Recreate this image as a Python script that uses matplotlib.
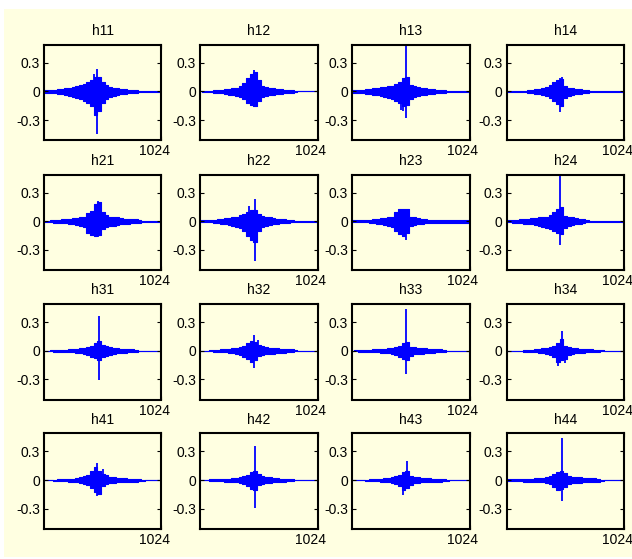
import matplotlib
matplotlib.use('Agg')
import matplotlib.pyplot as plt
from matplotlib.patches import Rectangle
import matplotlib.transforms as mtransforms

plt.rcParams['font.family'] = ['Liberation Sans', 'DejaVu Sans']

# sample positions at which the envelope of each response was read
GRID = list(range(0, 1025, 32))

TITLES = ['h11', 'h12', 'h13', 'h14',
          'h21', 'h22', 'h23', 'h24',
          'h31', 'h32', 'h33', 'h34',
          'h41', 'h42', 'h43', 'h44']

YTICKS = [-0.3, 0, 0.3]
YTICKLABELS = ['-0.3', '0', '0.3']
XTICKS = [1024]
XTICKLABELS = ['1024']

# ---- envelopes (upper / lower), plus narrow spikes ----
H11_UP = [.015, .015, .015, .02, .025, .03, .035, .04, .05, .06, .07,
          .08, .10, .12, .15, .15, .10, .07, .05, .04, .035, .03,
          .025, .02, .02, .015, .005, .003, .003, .003, .01, .003, .003]
H11_LO = [-.015, -.015, -.015, -.02, -.025, -.03, -.04, -.05, -.06, -.07, -.08,
          -.10, -.12, -.15, -.25, -.20, -.12, -.08, -.06, -.05, -.04, -.03,
          -.025, -.02, -.02, -.015, -.005, -.003, -.003, -.003, -.01, -.003, -.003]
H11_SPX = [440, 462]
H11_SPT = [.18, .24]
H11_SPB = [-.10, -.45]

H12_UP = [0, .003, .005, .01, .012, .015, .02, .025, .03, .035, .04,
          .06, .09, .14, .18, .20, .12, .06, .05, .04, .035, .03,
          .025, .02, .02, .015, .01, 0, 0, 0, 0, 0, 0]
H12_LO = [0, -.003, -.005, -.01, -.012, -.015, -.02, -.025, -.035, -.04, -.05,
          -.06, -.08, -.12, -.14, -.15, -.10, -.06, -.05, -.04, -.035, -.03,
          -.025, -.02, -.02, -.015, -.01, 0, 0, 0, 0, 0, 0]
H12_SPX = [470]
H12_SPT = [.22]
H12_SPB = [-.16]

H13_UP = [.012, .012, .015, .02, .025, .03, .035, .04, .045, .05, .055,
          .06, .08, .10, .14, .15, .07, .06, .05, .04, .035, .03,
          .025, .02, .015, .015, .01, .01, .008, .008, .008, .008, .008]
H13_LO = [-.012, -.012, -.015, -.02, -.025, -.03, -.035, -.04, -.05, -.06, -.07,
          -.08, -.10, -.12, -.15, -.14, -.08, -.06, -.05, -.04, -.035, -.03,
          -.025, -.02, -.015, -.015, -.01, -.01, -.008, -.008, -.008, -.008, -.008]
H13_SPX = [425, 445, 474]
H13_SPT = [.05, .05, .48]
H13_SPB = [-.19, -.20, -.28]

H14_UP = [.01, .01, .01, .01, .01, .01, .015, .02, .025, .03, .035,
          .05, .07, .10, .12, .13, .06, .04, .035, .03, .025, .02,
          .015, .01, .01, .01, .01, .01, .01, .01, .01, .01, .01]
H14_LO = [-.01, -.01, -.01, -.01, -.01, -.01, -.015, -.02, -.025, -.03, -.035,
          -.05, -.07, -.10, -.13, -.15, -.07, -.05, -.04, -.03, -.025, -.02,
          -.015, -.01, -.01, -.01, -.01, -.01, -.01, -.01, -.01, -.01, -.01]
H14_SPX = [465, 485]
H14_SPT = [.14, .15]
H14_SPB = [-.21, -.12]

H21_UP = [.005, .008, .01, .015, .015, .02, .02, .025, .03, .035, .04,
          .05, .09, .11, .18, .20, .10, .07, .05, .045, .04, .03,
          .025, .025, .02, .02, .015, .003, .003, .003, .003, .003, .003]
H21_LO = [-.005, -.008, -.01, -.015, -.015, -.02, -.02, -.025, -.03, -.04, -.05,
          -.06, -.12, -.14, -.15, -.14, -.08, -.06, -.05, -.045, -.04, -.03,
          -.025, -.025, -.02, -.02, -.015, -.003, -.003, -.003, -.003, -.003, -.003]
H21_SPX = [470]
H21_SPT = [.21]
H21_SPB = [-.16]

H22_UP = [.01, .01, .01, .012, .015, .02, .025, .03, .035, .04, .05,
          .07, .08, .10, .12, .12, .08, .06, .05, .04, .03, .025,
          .02, .02, .015, .01, .005, .003, .003, .003, .008, .005, .003]
H22_LO = [-.01, -.01, -.01, -.012, -.015, -.02, -.025, -.03, -.04, -.05, -.06,
          -.07, -.10, -.15, -.20, -.22, -.10, -.06, -.05, -.04, -.03, -.025,
          -.02, -.02, -.015, -.01, -.005, -.003, -.003, -.003, -.008, -.005, -.003]
H22_SPX = [430, 483]
H22_SPT = [.16, .23]
H22_SPB = [-.10, -.42]

H23_UP = [.012, .012, .012, .012, .012, .015, .02, .025, .03, .035, .04,
          .05, .10, .13, .13, .13, .05, .04, .03, .025, .02, .015,
          .015, .015, .015, .015, .015, .015, .015, .015, .015, .015, .015]
H23_LO = [-.012, -.012, -.012, -.012, -.012, -.015, -.02, -.025, -.03, -.035, -.05,
          -.06, -.10, -.13, -.15, -.12, -.05, -.04, -.03, -.025, -.02, -.015,
          -.015, -.015, -.015, -.015, -.015, -.015, -.015, -.015, -.015, -.015, -.015]
H23_SPX = [470]
H23_SPT = [.13]
H23_SPB = [-.20]

H24_UP = [.01, .012, .015, .018, .02, .025, .025, .03, .035, .04, .05,
          .05, .07, .10, .13, .15, .06, .05, .04, .03, .025, .02,
          .01, .008, .005, .005, .005, .005, .005, .005, .005, .005, .005]
H24_LO = [-.01, -.012, -.015, -.018, -.02, -.025, -.025, -.03, -.035, -.05, -.06,
          -.07, -.08, -.10, -.12, -.13, -.07, -.05, -.04, -.03, -.025, -.02,
          -.01, -.008, -.005, -.005, -.005, -.005, -.005, -.005, -.005, -.005, -.005]
H24_SPX = [468]
H24_SPT = [.47]
H24_SPB = [-.25]

H31_UP = [0, 0, .005, .01, .01, .012, .012, .015, .015, .02, .025,
          .03, .035, .05, .08, .10, .06, .05, .04, .03, .025, .02,
          .02, .015, .015, .01, 0, 0, 0, 0, 0, 0, 0]
H31_LO = [0, 0, -.005, -.01, -.01, -.012, -.012, -.015, -.015, -.02, -.025,
          -.03, -.04, -.06, -.08, -.10, -.07, -.05, -.04, -.03, -.025, -.02,
          -.02, -.015, -.015, -.01, 0, 0, 0, 0, 0, 0, 0]
H31_SPX = [477]
H31_SPT = [.36]
H31_SPB = [-.31]

H32_UP = [0, 0, 0, .005, .01, .012, .015, .015, .02, .025, .03,
          .04, .05, .08, .10, .09, .06, .05, .035, .03, .03, .025,
          .02, .02, .015, .015, .005, 0, 0, 0, 0, 0, 0]
H32_LO = [0, 0, 0, -.005, -.01, -.012, -.015, -.015, -.02, -.025, -.03,
          -.04, -.06, -.09, -.12, -.10, -.05, -.04, -.035, -.03, -.03, -.025,
          -.02, -.02, -.015, -.015, -.005, 0, 0, 0, 0, 0, 0]
H32_SPX = [467, 505]
H32_SPT = [.17, .11]
H32_SPB = [-.18, -.05]

H33_UP = [0, .005, .01, .01, .012, .012, .015, .015, .02, .02, .025,
          .03, .04, .05, .08, .09, .04, .035, .03, .03, .025, .02,
          .02, .015, .015, .01, 0, 0, 0, 0, 0, 0, 0]
H33_LO = [0, -.005, -.01, -.01, -.012, -.012, -.015, -.015, -.02, -.02, -.025,
          -.03, -.04, -.06, -.09, -.10, -.05, -.035, -.03, -.03, -.025, -.02,
          -.02, -.015, -.015, -.01, 0, 0, 0, 0, 0, 0, 0]
H33_SPX = [472]
H33_SPT = [.44]
H33_SPB = [-.24]

H34_UP = [0, 0, 0, 0, 0, .008, .01, .012, .015, .02, .025,
          .03, .04, .05, .08, .12, .05, .04, .03, .025, .02, .02,
          .015, .015, .01, .01, .005, 0, 0, 0, 0, 0, 0]
H34_LO = [0, 0, 0, 0, 0, -.008, -.01, -.012, -.015, -.02, -.025,
          -.03, -.04, -.06, -.12, -.10, -.09, -.04, -.03, -.025, -.02, -.02,
          -.015, -.015, -.01, -.01, -.005, 0, 0, 0, 0, 0, 0]
H34_SPX = [450, 487, 510]
H34_SPT = [.05, .21, .03]
H34_SPB = [-.16, -.06, -.13]

H41_UP = [0, 0, 0, .005, .01, .01, .012, .015, .015, .02, .03,
          .04, .05, .10, .14, .10, .06, .05, .035, .03, .025, .02,
          .02, .015, .015, .015, .01, .005, 0, 0, 0, 0, 0]
H41_LO = [0, 0, 0, -.005, -.01, -.01, -.012, -.015, -.015, -.02, -.03,
          -.04, -.05, -.08, -.12, -.15, -.06, -.04, -.035, -.03, -.025, -.02,
          -.02, -.015, -.015, -.015, -.01, -.005, 0, 0, 0, 0, 0]
H41_SPX = [465, 518]
H41_SPT = [.18, .12]
H41_SPB = [-.17, -.03]

H42_UP = [0, 0, 0, .008, .01, .012, .012, .015, .015, .02, .025,
          .03, .04, .05, .08, .10, .06, .04, .035, .03, .02, .02,
          .015, .015, .01, .01, 0, 0, 0, 0, 0, 0, 0]
H42_LO = [0, 0, 0, -.008, -.01, -.012, -.012, -.015, -.015, -.02, -.025,
          -.03, -.04, -.06, -.09, -.10, -.05, -.04, -.035, -.03, -.02, -.02,
          -.015, -.015, -.01, -.01, 0, 0, 0, 0, 0, 0, 0]
H42_SPX = [476]
H42_SPT = [.36]
H42_SPB = [-.29]

H43_UP = [0, 0, 0, 0, .005, .01, .01, .012, .015, .02, .02,
          .03, .04, .05, .08, .10, .04, .035, .03, .025, .02, .02,
          .015, .015, .015, .01, .005, 0, 0, 0, 0, 0, 0]
H43_LO = [0, 0, 0, 0, -.005, -.01, -.01, -.012, -.015, -.02, -.02,
          -.03, -.04, -.06, -.10, -.08, -.05, -.035, -.03, -.025, -.02, -.02,
          -.015, -.015, -.015, -.01, -.005, 0, 0, 0, 0, 0, 0]
H43_SPX = [443, 483]
H43_SPT = [.03, .20]
H43_SPB = [-.16, -.05]

H44_UP = [.008, .01, .01, .012, .012, .015, .015, .015, .02, .02, .025,
          .035, .045, .06, .08, .10, .07, .04, .035, .03, .03, .025,
          .02, .02, .02, .015, .005, 0, 0, 0, 0, 0, 0]
H44_LO = [-.008, -.01, -.01, -.012, -.012, -.015, -.015, -.015, -.02, -.02, -.025,
          -.035, -.045, -.07, -.10, -.09, -.07, -.04, -.035, -.03, -.03, -.025,
          -.02, -.02, -.02, -.015, -.005, 0, 0, 0, 0, 0, 0]
H44_SPX = [487]
H44_SPT = [.44]
H44_SPB = [-.22]

PANELS = [
    (H11_UP, H11_LO, H11_SPX, H11_SPT, H11_SPB),
    (H12_UP, H12_LO, H12_SPX, H12_SPT, H12_SPB),
    (H13_UP, H13_LO, H13_SPX, H13_SPT, H13_SPB),
    (H14_UP, H14_LO, H14_SPX, H14_SPT, H14_SPB),
    (H21_UP, H21_LO, H21_SPX, H21_SPT, H21_SPB),
    (H22_UP, H22_LO, H22_SPX, H22_SPT, H22_SPB),
    (H23_UP, H23_LO, H23_SPX, H23_SPT, H23_SPB),
    (H24_UP, H24_LO, H24_SPX, H24_SPT, H24_SPB),
    (H31_UP, H31_LO, H31_SPX, H31_SPT, H31_SPB),
    (H32_UP, H32_LO, H32_SPX, H32_SPT, H32_SPB),
    (H33_UP, H33_LO, H33_SPX, H33_SPT, H33_SPB),
    (H34_UP, H34_LO, H34_SPX, H34_SPT, H34_SPB),
    (H41_UP, H41_LO, H41_SPX, H41_SPT, H41_SPB),
    (H42_UP, H42_LO, H42_SPX, H42_SPT, H42_SPB),
    (H43_UP, H43_LO, H43_SPX, H43_SPT, H43_SPB),
    (H44_UP, H44_LO, H44_SPX, H44_SPT, H44_SPB),
]

# ---- layout ----
W, H = 632, 559
DPI = 100
BG = '#FFFFE1'
BLUE = '#0000FF'

fig = plt.figure(figsize=(W / DPI, H / DPI), dpi=DPI, facecolor='white')
fig.patches.append(Rectangle((4 / W, 1 - 557 / H), 628 / W, 548 / H,
                             transform=fig.transFigure, facecolor=BG,
                             edgecolor='none', zorder=-10))

col_left = [44, 200, 352, 506.5]
row_top = [44.7, 174.5, 304, 433.3]
ax_w, ax_h = 117.5, 95.5

for i, (title, (up, lo, spx, spt, spb)) in enumerate(zip(TITLES, PANELS)):
    r, c = divmod(i, 4)
    left = col_left[c] / W
    bottom = 1 - (row_top[r] + ax_h) / H
    ax = fig.add_axes([left, bottom, ax_w / W, ax_h / H])
    ax.set_facecolor(BG)
    ax.fill_between(GRID, lo, up, step='mid', facecolor=BLUE,
                    edgecolor=BLUE, linewidth=0.8)
    ax.vlines(spx, spb, spt, colors=BLUE, linewidth=1.3)
    ax.set_xlim(0, 1024)
    ax.set_ylim(-0.51, 0.49)
    ax.set_yticks(YTICKS)
    ax.set_yticklabels(YTICKLABELS)
    ax.set_xticks(XTICKS)
    ax.set_xticklabels(XTICKLABELS)
    ax.tick_params(direction='in', length=3, width=0.8, right=True, top=True,
                   labelsize=10, pad=3, colors='black')
    for lab in ax.get_xticklabels():
        lab.set_transform(lab.get_transform() +
                          mtransforms.ScaledTranslation(-5 / 72, 0, fig.dpi_scale_trans))
    for sp in ax.spines.values():
        sp.set_linewidth(1.5)
        sp.set_color('black')
    ax.set_title(title, fontsize=10, pad=7)

fig.savefig('out.png', dpi=DPI, facecolor='white')
